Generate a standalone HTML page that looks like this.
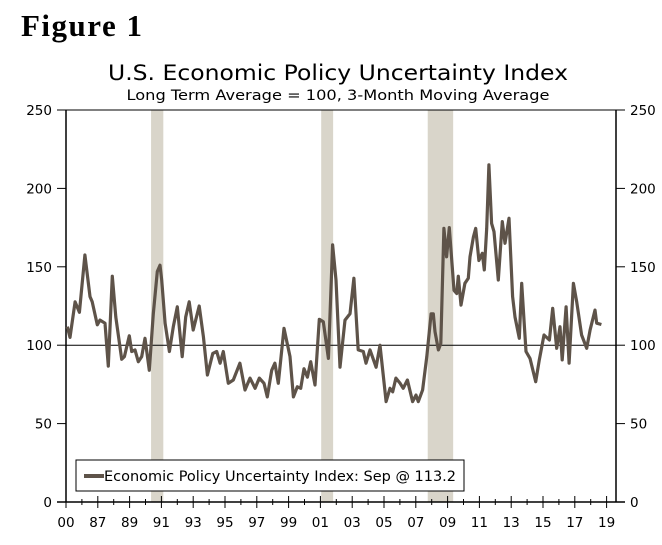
<!DOCTYPE html>
<html><head><meta charset="utf-8"><style>
html,body{margin:0;padding:0;background:#fff;width:662px;height:545px;overflow:hidden}
svg text{font-family:"DejaVu Sans","Liberation Sans",sans-serif}
</style></head><body>
<svg id="chart" width="662" height="545" viewBox="0 0 662 545" xmlns="http://www.w3.org/2000/svg">
<text x="21" y="36" style="font-family:'Liberation Serif',serif;font-weight:bold;font-size:31px;letter-spacing:1.5px">Figure 1</text>
<text x="338" y="80" text-anchor="middle" font-size="21" textLength="460" lengthAdjust="spacingAndGlyphs">U.S. Economic Policy Uncertainty Index</text>
<text x="338" y="100" text-anchor="middle" font-size="14.5" textLength="423" lengthAdjust="spacingAndGlyphs">Long Term Average = 100, 3-Month Moving Average</text>
<g id="rec"></g>
<g id="axes"></g>
<path id="line" fill="none" stroke="#5e5349" stroke-width="3.2" stroke-linejoin="round"/>
<g>
<rect x="76" y="460" width="388" height="31" fill="#fff" stroke="#000" stroke-width="1"/>
<line x1="84" y1="476" x2="104" y2="476" stroke="#5e5349" stroke-width="4"/>
<text x="104" y="481" font-size="14" textLength="352" lengthAdjust="spacingAndGlyphs">Economic Policy Uncertainty Index: Sep @ 113.2</text>
</g>
</svg>
<script>
const years=[1985.08,1985.25,1985.57,1985.84,1986.19,1986.51,1986.65,1986.97,1987.14,1987.45,1987.66,1987.91,1988.13,1988.5,1988.67,1988.98,1989.13,1989.34,1989.55,1989.76,1989.97,1990.24,1990.49,1990.74,1990.91,1991.02,1991.23,1991.5,1991.75,1992.0,1992.31,1992.53,1992.75,1993.0,1993.38,1993.64,1993.89,1994.23,1994.48,1994.69,1994.89,1995.21,1995.52,1995.94,1996.26,1996.57,1996.89,1997.16,1997.45,1997.66,1997.94,1998.14,1998.35,1998.71,1999.09,1999.3,1999.55,1999.76,1999.97,2000.18,2000.39,2000.66,2000.93,2001.18,2001.5,2001.77,2001.98,2002.23,2002.55,2002.86,2003.11,2003.38,2003.7,2003.87,2004.12,2004.5,2004.75,2005.13,2005.38,2005.55,2005.75,2006.01,2006.21,2006.47,2006.8,2007.01,2007.16,2007.43,2007.69,2007.96,2008.1,2008.21,2008.42,2008.57,2008.77,2008.94,2009.11,2009.4,2009.57,2009.67,2009.84,2010.09,2010.3,2010.41,2010.62,2010.77,2010.97,2011.18,2011.31,2011.46,2011.6,2011.77,2011.92,2012.19,2012.44,2012.61,2012.86,2013.09,2013.24,2013.51,2013.66,2013.82,2013.93,2014.18,2014.54,2014.77,2015.06,2015.4,2015.61,2015.86,2016.07,2016.21,2016.45,2016.64,2016.91,2017.12,2017.43,2017.75,2017.96,2018.27,2018.38,2018.67];
const values=[111.8,105,127.7,121,157.5,131,127.7,113,116,114,86.7,144,118,91,92.7,106,96,97,89.5,92.7,104.4,84,120,147,151,141.6,114,96,111.8,124.5,92.7,118,127.7,109.7,125,105.4,81,94.8,96,88.5,96,75.7,77.8,88.5,71.4,79,72.5,79,75.7,67,84,88.5,75.7,110.8,92.7,67,73.5,72.5,85,79.6,89.5,74.6,116.5,115,91.6,164,141.6,86,116,120,142.7,97,96,88.5,97,86,100,64,72.5,70.3,79,75.7,72.5,77.8,64,68.2,64,71.4,92.7,120,120,108.6,97,101,174.5,156.4,175,135,133,144,125.6,139.5,142.7,156.4,169,174.5,154,158.6,148,174.5,215,177.7,172.4,141.6,178.8,165,181,131,118,104.4,139.5,114,96,91.6,76.7,90.6,106.5,103.3,123.5,98,111.8,90.6,124.5,88.5,139.5,127.7,106.5,98,109.7,122.4,114,113.2];
const recessionStarts=[1990.35,2001.05,2007.75];
const recessionEnds=[1991.12,2001.8,2009.35];
const yTicks=[0,50,100,150,200,250];
const xTickYears=[1985,1987,1989,1991,1993,1995,1997,1999,2001,2003,2005,2007,2009,2011,2013,2015,2017,2019];
const xTickLabels=["00","87","89","91","93","95","97","99","01","03","05","07","09","11","13","15","17","19"];
const L=66,R=616,B=502,T=110;
const X=y=>L+(y-1985)*15.9;
const Y=v=>B-(v/250)*(B-T);
const NS="http://www.w3.org/2000/svg";
function mk(p,tag,a){const e=document.createElementNS(NS,tag);for(const k in a)e.setAttribute(k,a[k]);p.appendChild(e);return e;}
const rec=document.getElementById('rec');
recessionStarts.forEach((s,i)=>{const r=mk(rec,'rect',{x:X(s),y:T,width:X(recessionEnds[i])-X(s),height:B-T,fill:'#d9d5ca'});

});
const ax=document.getElementById('axes');
mk(ax,'line',{x1:L,y1:T,x2:L,y2:B,stroke:'#000','stroke-width':1.5});
mk(ax,'line',{x1:R,y1:T,x2:R,y2:B,stroke:'#000','stroke-width':1.5});
mk(ax,'line',{x1:L,y1:T,x2:R,y2:T,stroke:'#000','stroke-width':1});
mk(ax,'line',{x1:57,y1:B,x2:625,y2:B,stroke:'#000','stroke-width':1.5});
mk(ax,'line',{x1:L,y1:Y(100),x2:R,y2:Y(100),stroke:'#000','stroke-width':1});
yTicks.forEach(v=>{
 mk(ax,'line',{x1:57,y1:Y(v),x2:L,y2:Y(v),stroke:'#000'});
 mk(ax,'line',{x1:R,y1:Y(v),x2:625,y2:Y(v),stroke:'#000'});
 const a=mk(ax,'text',{x:52,y:Y(v)+5,'text-anchor':'end','font-size':13.5});a.textContent=v;
 
 
 const b=mk(ax,'text',{x:630,y:Y(v)+5,'font-size':13.5});b.textContent=v;
 
 
});
xTickYears.forEach((y,i)=>{
 mk(ax,'line',{x1:X(y),y1:B-6,x2:X(y),y2:B+6,stroke:'#000'});
 if(i<xTickYears.length-1)mk(ax,'line',{x1:X(y+1),y1:B-3,x2:X(y+1),y2:B+3,stroke:'#000'});
 const t=mk(ax,'text',{x:X(y),y:B+25,'text-anchor':'middle','font-size':13.5});t.textContent=xTickLabels[i];
 
 
});
document.getElementById('line').setAttribute('d',years.map((y,i)=>(i?'L':'M')+X(y).toFixed(1)+' '+Y(values[i]).toFixed(1)).join(' '));
</script>
</body></html>
